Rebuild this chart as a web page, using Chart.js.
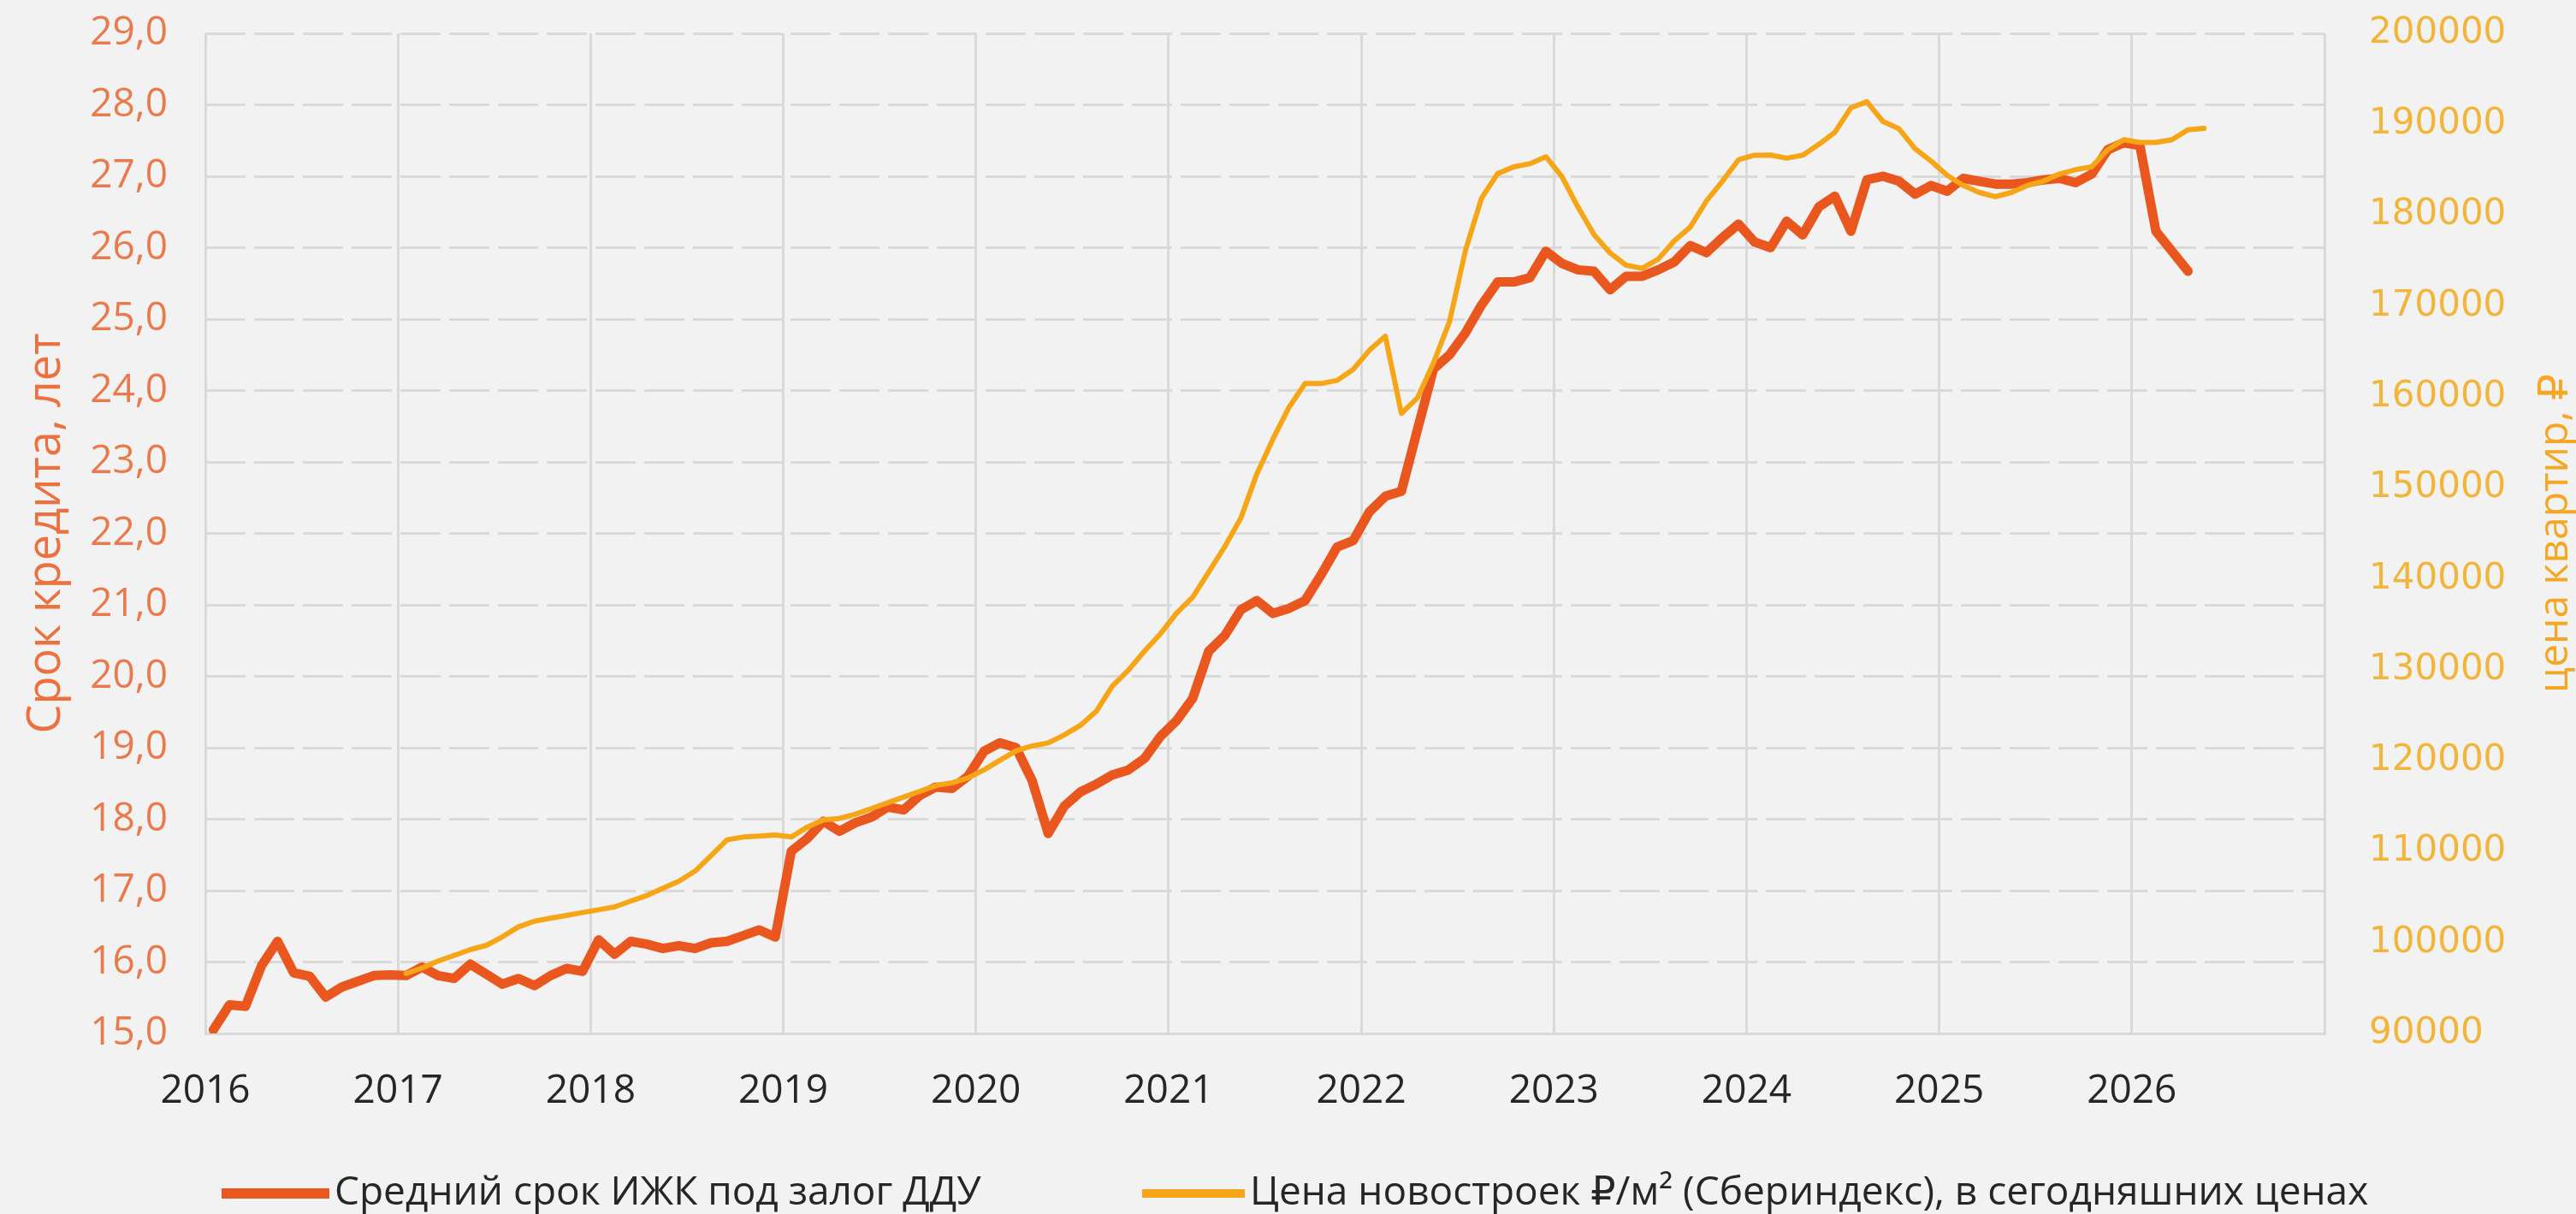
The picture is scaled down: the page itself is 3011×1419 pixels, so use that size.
<!DOCTYPE html>
<html>
<head>
<meta charset="utf-8">
<script src="https://cdn.jsdelivr.net/npm/chart.js@4"></script>
<style>
  html, body { margin: 0; padding: 0; background: #F2F2F2; }
  #wrap { width: 3011px; height: 1419px; }
</style>
</head>
<body>
<div id="wrap"><canvas id="c" width="3011" height="1419" style="width:3011px;height:1419px"></canvas></div>
<script>
// ---------- data ----------
const firstYear = 2016;          // first month of the term series = Jan 2016
const priceFirstMonthIndex = 12; // price series starts Jan 2017
const yearLabels = ['2016','2017','2018','2019','2020','2021','2022','2023','2024','2025','2026'];

const seriesNames = ['Средний срок ИЖК под залог ДДУ', 'Цена новостроек ₽/м² (Сбериндекс), в сегодняшних ценах'];

// Средний срок ИЖК под залог ДДУ, лет (monthly, Jan 2016 – Apr 2026)
const loanTerm = [
  15.05, 15.40, 15.38, 15.95, 16.29, 15.85, 15.80, 15.51, 15.65, 15.73, 15.81, 15.82,
  15.81, 15.93, 15.81, 15.77, 15.97, 15.83, 15.69, 15.77, 15.67, 15.81, 15.91, 15.87,
  16.31, 16.11, 16.29, 16.25, 16.19, 16.23, 16.19, 16.27, 16.29, 16.37, 16.45, 16.35,
  17.55, 17.73, 17.97, 17.83, 17.95, 18.03, 18.17, 18.13, 18.33, 18.45, 18.43, 18.60,
  18.95, 19.07, 19.00, 18.54, 17.80, 18.18, 18.38, 18.49, 18.62, 18.69, 18.85, 19.16,
  19.38, 19.69, 20.35, 20.57, 20.93, 21.06, 20.88, 20.95, 21.06, 21.42, 21.81, 21.90,
  22.30, 22.52, 22.59, 23.45, 24.30, 24.50, 24.81, 25.20, 25.52, 25.52, 25.58, 25.95,
  25.78, 25.69, 25.67, 25.41, 25.60, 25.60, 25.69, 25.80, 26.03, 25.93, 26.14, 26.33,
  26.08, 26.00, 26.37, 26.18, 26.57, 26.72, 26.23, 26.95, 27.00, 26.93, 26.75, 26.87,
  26.79, 26.97, 26.93, 26.89, 26.89, 26.91, 26.95, 26.97, 26.91, 27.03, 27.37, 27.47,
  27.43, 26.23, 25.95, 25.67
];

// Цена новостроек ₽/м² (monthly, Jan 2017 – May 2026)
const pricePerM2 = [
  96600, 97200, 97970, 98590, 99220, 99690, 100630, 101730, 102350, 102680, 102990, 103300,
  103610, 103930, 104560, 105180, 105970, 106750, 107850, 109570, 111300, 111610, 111710, 111830,
  111610, 112710, 113500, 113650, 114120, 114750, 115370, 116000, 116630, 117260, 117570, 118100,
  119000, 120050, 121090, 121620, 121960, 122830, 123880, 125440, 128220, 129960, 132060, 133970,
  136230, 137970, 140760, 143540, 146680, 151550, 155380, 158860, 161480, 161480, 161830, 163040,
  165130, 166700, 158200, 159900, 163740, 168300, 176190, 181900, 184580, 185320, 185660, 186430,
  184250, 180890, 177860, 175850, 174500, 174160, 175170, 177190, 178700, 181560, 183740, 186100,
  186600, 186620, 186270, 186600, 187780, 189120, 191810, 192480, 190300, 189500, 187300, 185950,
  184380, 183280, 182500, 182030, 182500, 183280, 183750, 184540, 185010, 185320, 187210, 188310,
  188000, 188000, 188310, 189400, 189560
];

// month index -> position on the year axis (middle of the month)
function monthPos(idx) { return firstYear + (idx + 0.5) / 12; }

const termPoints = loanTerm.map((v, i) => ({ x: monthPos(i), y: v }));
const pricePoints = pricePerM2.map((v, i) => ({ x: monthPos(i + priceFirstMonthIndex), y: v }));

// ---------- styles ----------
const RED = '#E9571F';
const YEL = '#F5A515';
const GRID = '#D9D9D9';
const FONT = "'Open Sans', 'DejaVu Sans', sans-serif";

const rightTitlePlugin = {
  id: 'rightTitle',
  afterDraw(chart) {
    const ctx = chart.ctx;
    const ca = chart.chartArea;
    ctx.save();
    ctx.translate(2987, (ca.top + ca.bottom) / 2);
    ctx.rotate(-Math.PI / 2);
    ctx.font = "48px " + FONT;
    ctx.fillStyle = '#F5A623';
    ctx.textAlign = 'center';
    ctx.textBaseline = 'middle';
    ctx.fillText('цена квартир, ₽', 0, 0);
    ctx.restore();
  }
};

const legendPlugin = {
  id: 'customLegend',
  afterDraw(chart) {
    const ctx = chart.ctx;
    const items = [
      { ds: 0, x: 259, w: 126, h: 12 },
      { ds: 1, x: 1335, w: 120, h: 10 }
    ];
    const yc = 1395;
    ctx.save();
    ctx.font = "46px " + FONT;
    ctx.textBaseline = 'middle';
    ctx.textAlign = 'left';
    items.forEach(it => {
      const ds = chart.data.datasets[it.ds];
      ctx.fillStyle = ds.borderColor;
      ctx.fillRect(it.x, yc - it.h / 2, it.w, it.h);
      ctx.fillStyle = '#262626';
      ctx.fillText(ds.label, it.x + it.w + 6, yc);
    });
    ctx.restore();
  }
};

function noVertPadding(scale) { scale.paddingTop = 0; scale.paddingBottom = 0; }

new Chart(document.getElementById('c'), {
  type: 'line',
  data: {
    datasets: [
      {
        label: seriesNames[0],
        data: termPoints,
        yAxisID: 'y',
        borderColor: RED,
        backgroundColor: RED,
        borderWidth: 11,
        pointRadius: 0,
        tension: 0,
        borderJoinStyle: 'round',
        borderCapStyle: 'round',
        order: 1
      },
      {
        label: seriesNames[1],
        data: pricePoints,
        yAxisID: 'y1',
        borderColor: YEL,
        backgroundColor: YEL,
        borderWidth: 6,
        pointRadius: 0,
        tension: 0,
        borderJoinStyle: 'round',
        borderCapStyle: 'round',
        order: 0
      }
    ]
  },
  options: {
    responsive: false,
    devicePixelRatio: 1,
    animation: false,
    events: [],
    layout: { padding: { top: 39, left: 0, right: 0, bottom: 0 } },
    plugins: {
      legend: { display: false },
      tooltip: { enabled: false }
    },
    scales: {
      x: {
        type: 'linear',
        min: 2016,
        max: 2027,
        afterBuildTicks(scale) {
          scale.ticks = [];
          for (let y = 2016; y <= 2027; y++) scale.ticks.push({ value: y });
        },
        ticks: {
          autoSkip: false,
          maxRotation: 0,
          padding: 40,
          color: '#262626',
          font: { family: FONT, size: 46 },
          callback: (v) => { const i = Math.round(v) - firstYear; return yearLabels[i] !== undefined ? yearLabels[i] : ''; }
        },
        grid: { color: GRID, lineWidth: 3, drawTicks: false },
        border: { display: true, color: GRID, width: 3 },
        afterFit(scale) { scale.height = 1419 - 1208; scale.paddingLeft = 0; scale.paddingRight = 0; }
      },
      y: {
        type: 'linear',
        position: 'left',
        min: 15,
        max: 29,
        ticks: {
          stepSize: 1,
          padding: 44,
          color: '#EA7A4C',
          font: { family: FONT, size: 46 },
          callback: (v) => v.toFixed(1).replace('.', ',')
        },
        grid: { color: GRID, lineWidth: 3, drawTicks: false },
        border: { display: false, dash: [47, 10] },
        title: {
          display: true,
          text: 'Срок кредита, лет',
          color: '#EC7040',
          font: { family: FONT, size: 54 },
          padding: { top: 22, bottom: 0 }
        },
        afterFit(scale) { scale.width = 240; noVertPadding(scale); }
      },
      y1: {
        type: 'linear',
        position: 'right',
        min: 90000,
        max: 200000,
        ticks: {
          stepSize: 5000,
          padding: 52,
          color: '#F2B53C',
          font: { family: "'DejaVu Sans', sans-serif", size: 42 },
          callback: (v) => String(v)
        },
        grid: { drawOnChartArea: false, drawTicks: false },
        border: { display: false },
        afterFit(scale) { scale.width = 3011 - 2717; noVertPadding(scale); }
      }
    }
  },
  plugins: [rightTitlePlugin, legendPlugin]
});
</script>
</body>
</html>
